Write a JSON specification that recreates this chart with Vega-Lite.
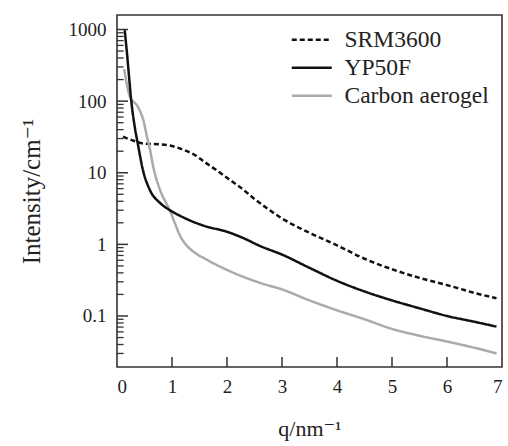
{
  "$schema": "https://vega.github.io/schema/vega-lite/v6.json",
  "width": 385,
  "height": 352,
  "autosize": {"type": "none"},
  "padding": {"left": 117, "top": 15, "right": 6, "bottom": 79},
  "config": {
    "font": "Liberation Serif, Times New Roman, DejaVu Serif, serif",
    "view": {"stroke": "#333", "strokeWidth": 1.6},
    "axis": {"grid": false, "ticks": false, "domain": false}
  },
  "datasets": {
    "ymaj": [{"v": 0.1}, {"v": 1}, {"v": 10}, {"v": 100}, {"v": 1000}],
    "ymin": [{"v": 0.03}, {"v": 0.04}, {"v": 0.05}, {"v": 0.06}, {"v": 0.07}, {"v": 0.08}, {"v": 0.09}, {"v": 0.2}, {"v": 0.3}, {"v": 0.4}, {"v": 0.5}, {"v": 0.6}, {"v": 0.7}, {"v": 0.8}, {"v": 0.9}, {"v": 2}, {"v": 3}, {"v": 4}, {"v": 5}, {"v": 6}, {"v": 7}, {"v": 8}, {"v": 9}, {"v": 20}, {"v": 30}, {"v": 40}, {"v": 50}, {"v": 60}, {"v": 70}, {"v": 80}, {"v": 90}, {"v": 200}, {"v": 300}, {"v": 400}, {"v": 500}, {"v": 600}, {"v": 700}, {"v": 800}, {"v": 900}],
    "xt": [{"v": 1}, {"v": 2}, {"v": 3}, {"v": 4}, {"v": 5}, {"v": 6}],
    "curves": [
    {"s": "SRM3600", "q": 0.11, "I": 32},
    {"s": "SRM3600", "q": 0.3, "I": 28},
    {"s": "SRM3600", "q": 0.5, "I": 25.5},
    {"s": "SRM3600", "q": 0.75, "I": 25},
    {"s": "SRM3600", "q": 0.96, "I": 24},
    {"s": "SRM3600", "q": 1.2, "I": 21},
    {"s": "SRM3600", "q": 1.4, "I": 18},
    {"s": "SRM3600", "q": 1.6, "I": 14},
    {"s": "SRM3600", "q": 1.8, "I": 11},
    {"s": "SRM3600", "q": 2.0, "I": 8.5},
    {"s": "SRM3600", "q": 2.25, "I": 6.2},
    {"s": "SRM3600", "q": 2.5, "I": 4.3},
    {"s": "SRM3600", "q": 2.75, "I": 3.1},
    {"s": "SRM3600", "q": 3.0, "I": 2.3},
    {"s": "SRM3600", "q": 3.5, "I": 1.45},
    {"s": "SRM3600", "q": 4.0, "I": 0.97},
    {"s": "SRM3600", "q": 4.5, "I": 0.63},
    {"s": "SRM3600", "q": 5.0, "I": 0.45},
    {"s": "SRM3600", "q": 5.5, "I": 0.34},
    {"s": "SRM3600", "q": 6.0, "I": 0.27},
    {"s": "SRM3600", "q": 6.5, "I": 0.21},
    {"s": "SRM3600", "q": 6.9, "I": 0.177},
    {"s": "Carbon aerogel", "q": 0.13, "I": 280},
    {"s": "Carbon aerogel", "q": 0.18, "I": 170},
    {"s": "Carbon aerogel", "q": 0.24, "I": 112},
    {"s": "Carbon aerogel", "q": 0.3, "I": 98},
    {"s": "Carbon aerogel", "q": 0.36, "I": 88},
    {"s": "Carbon aerogel", "q": 0.41, "I": 75},
    {"s": "Carbon aerogel", "q": 0.48, "I": 54},
    {"s": "Carbon aerogel", "q": 0.54, "I": 33},
    {"s": "Carbon aerogel", "q": 0.6, "I": 21},
    {"s": "Carbon aerogel", "q": 0.66, "I": 12},
    {"s": "Carbon aerogel", "q": 0.72, "I": 8},
    {"s": "Carbon aerogel", "q": 0.81, "I": 5.1},
    {"s": "Carbon aerogel", "q": 0.9, "I": 3.7},
    {"s": "Carbon aerogel", "q": 0.96, "I": 3.0},
    {"s": "Carbon aerogel", "q": 1.05, "I": 2.0},
    {"s": "Carbon aerogel", "q": 1.14, "I": 1.35},
    {"s": "Carbon aerogel", "q": 1.25, "I": 1.0},
    {"s": "Carbon aerogel", "q": 1.4, "I": 0.78},
    {"s": "Carbon aerogel", "q": 1.6, "I": 0.63},
    {"s": "Carbon aerogel", "q": 2.0, "I": 0.44},
    {"s": "Carbon aerogel", "q": 2.6, "I": 0.29},
    {"s": "Carbon aerogel", "q": 3.0, "I": 0.235},
    {"s": "Carbon aerogel", "q": 3.5, "I": 0.165},
    {"s": "Carbon aerogel", "q": 4.0, "I": 0.12},
    {"s": "Carbon aerogel", "q": 4.5, "I": 0.09},
    {"s": "Carbon aerogel", "q": 5.0, "I": 0.066},
    {"s": "Carbon aerogel", "q": 5.5, "I": 0.053},
    {"s": "Carbon aerogel", "q": 6.0, "I": 0.044},
    {"s": "Carbon aerogel", "q": 6.5, "I": 0.036},
    {"s": "Carbon aerogel", "q": 6.9, "I": 0.030},
    {"s": "YP50F", "q": 0.14, "I": 980},
    {"s": "YP50F", "q": 0.18, "I": 480},
    {"s": "YP50F", "q": 0.22, "I": 215},
    {"s": "YP50F", "q": 0.26, "I": 100},
    {"s": "YP50F", "q": 0.32, "I": 45},
    {"s": "YP50F", "q": 0.38, "I": 25},
    {"s": "YP50F", "q": 0.47, "I": 11},
    {"s": "YP50F", "q": 0.6, "I": 5.7},
    {"s": "YP50F", "q": 0.78, "I": 3.8},
    {"s": "YP50F", "q": 0.96, "I": 3.0},
    {"s": "YP50F", "q": 1.15, "I": 2.5},
    {"s": "YP50F", "q": 1.33, "I": 2.15},
    {"s": "YP50F", "q": 1.6, "I": 1.8},
    {"s": "YP50F", "q": 2.0, "I": 1.5},
    {"s": "YP50F", "q": 2.3, "I": 1.22},
    {"s": "YP50F", "q": 2.6, "I": 0.95},
    {"s": "YP50F", "q": 3.0, "I": 0.72},
    {"s": "YP50F", "q": 3.5, "I": 0.47},
    {"s": "YP50F", "q": 4.0, "I": 0.31},
    {"s": "YP50F", "q": 4.5, "I": 0.22},
    {"s": "YP50F", "q": 5.0, "I": 0.165},
    {"s": "YP50F", "q": 5.5, "I": 0.128},
    {"s": "YP50F", "q": 6.0, "I": 0.1},
    {"s": "YP50F", "q": 6.5, "I": 0.083},
    {"s": "YP50F", "q": 6.9, "I": 0.071}
    ]
  },
  "layer": [
    {
      "data": {"name": "curves"},
      "mark": {"type": "line", "interpolate": "monotone", "strokeWidth": 2.5},
      "encoding": {
        "x": {
          "field": "q", "type": "quantitative",
          "scale": {"domain": [0, 7], "nice": false, "zero": false},
          "axis": {
            "values": [0, 1, 2, 3, 4, 5, 6, 7], "format": "d",
            "domain": false, "grid": false, "ticks": false,
            "labelPadding": 10, "labelFont": "Liberation Serif, Times New Roman, DejaVu Serif, serif", "labelFontSize": 19, "labelColor": "#222",
            "title": "q/nm⁻¹", "titleFont": "Liberation Serif, Times New Roman, DejaVu Serif, serif", "titleFontSize": 22, "titleFontWeight": "normal", "titleColor": "#222", "titlePadding": 22
          }
        },
        "y": {
          "field": "I", "type": "quantitative",
          "scale": {"type": "log", "domain": [0.0194, 1594], "nice": false},
          "axis": {
            "values": [0.1, 1, 10, 100, 1000],
            "format": "~g",
            "domain": false, "grid": false, "ticks": false,
            "labelPadding": 11, "labelFont": "Liberation Serif, Times New Roman, DejaVu Serif, serif", "labelFontSize": 19, "labelColor": "#222",
            "title": "Intensity/cm⁻¹", "titleFont": "Liberation Serif, Times New Roman, DejaVu Serif, serif", "titleFontSize": 25, "titleFontWeight": "normal", "titleColor": "#222", "titlePadding": 24
          }
        },
        "color": {
          "field": "s", "type": "nominal",
          "scale": {"domain": ["SRM3600", "YP50F", "Carbon aerogel"], "range": ["#111111", "#111111", "#aaaaaa"]},
          "legend": {"title": null, "orient": "top-right", "offset": 13, "padding": 0, "labelFont": "Liberation Serif, Times New Roman, DejaVu Serif, serif", "labelFontSize": 23.5, "labelColor": "#222", "symbolType": "M-1,0H3", "symbolSize": 400, "symbolStrokeWidth": 2.4, "labelOffset": 31, "rowPadding": 3}
        },
        "strokeDash": {
          "field": "s", "type": "nominal",
          "scale": {"domain": ["SRM3600", "YP50F", "Carbon aerogel"], "range": [[5, 3], [1, 0], [1, 0]]},
          "legend": null
        }
      }
    },
    {
      "data": {"name": "ymaj"},
      "mark": {"type": "rule", "color": "#333", "strokeWidth": 1.5},
      "encoding": {
        "y": {"field": "v", "type": "quantitative", "title": "Intensity/cm⁻¹", "axis": {"values": [0.1, 1, 10, 100, 1000], "format": "~g", "domain": false, "grid": false, "ticks": false}},
        "x": {"datum": 0, "title": "q/nm⁻¹", "axis": {"values": [0, 1, 2, 3, 4, 5, 6, 7], "format": "d", "domain": false, "grid": false, "ticks": false}},
        "x2": {"datum": 0.2}
      }
    },
    {
      "data": {"name": "ymin"},
      "mark": {"type": "rule", "color": "#333", "strokeWidth": 1.3},
      "encoding": {
        "y": {"field": "v", "type": "quantitative", "title": "Intensity/cm⁻¹", "axis": {"values": [0.1, 1, 10, 100, 1000], "format": "~g", "domain": false, "grid": false, "ticks": false}},
        "x": {"datum": 0, "title": "q/nm⁻¹", "axis": {"values": [0, 1, 2, 3, 4, 5, 6, 7], "format": "d", "domain": false, "grid": false, "ticks": false}},
        "x2": {"datum": 0.12}
      }
    },
    {
      "data": {"name": "xt"},
      "mark": {"type": "rule", "color": "#333", "strokeWidth": 1.5},
      "encoding": {
        "x": {"field": "v", "type": "quantitative", "title": "q/nm⁻¹", "axis": {"values": [0, 1, 2, 3, 4, 5, 6, 7], "format": "d", "domain": false, "grid": false, "ticks": false}},
        "y": {"datum": 0.0194, "title": "Intensity/cm⁻¹", "axis": {"values": [0.1, 1, 10, 100, 1000], "format": "~g", "domain": false, "grid": false, "ticks": false}},
        "y2": {"datum": 0.0268}
      }
    }
  ]
}
